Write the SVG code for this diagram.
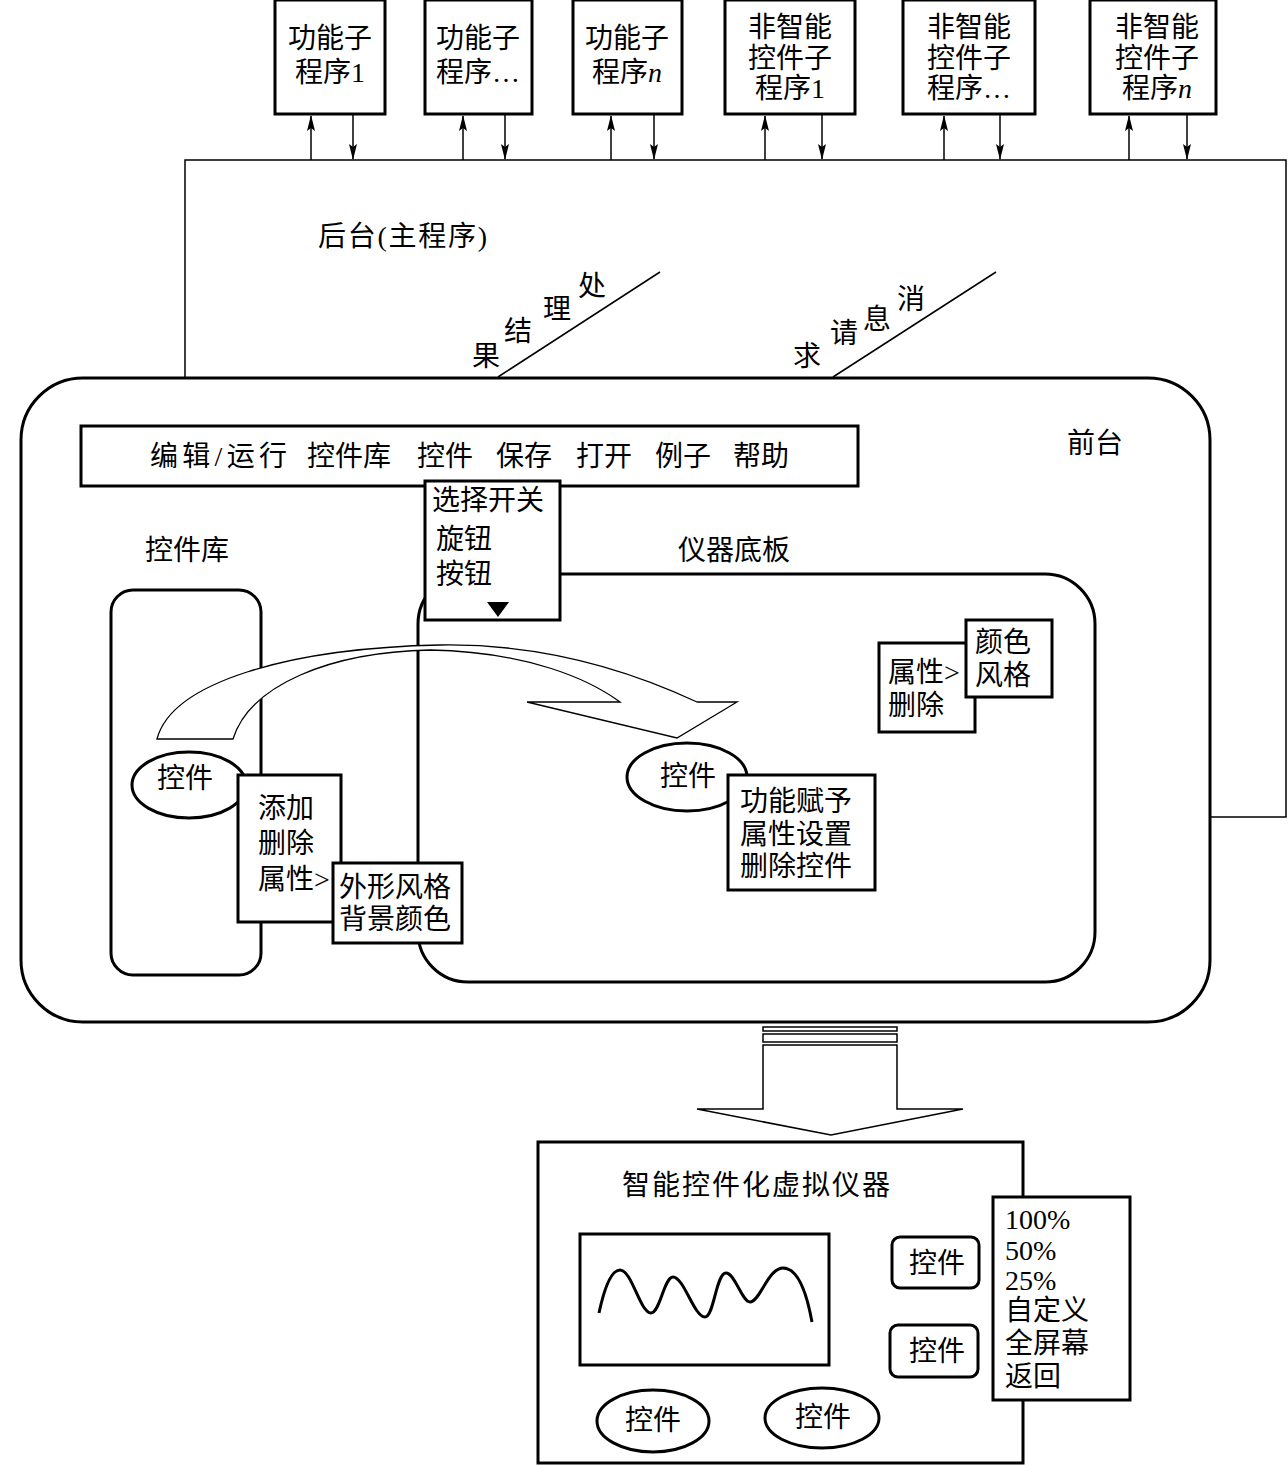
<svg xmlns="http://www.w3.org/2000/svg" width="1288" height="1465" viewBox="0 0 1288 1465">
<style>
text{font-family:"Liberation Serif","Noto Sans CJK SC",serif;font-size:28px;fill:#000}
.c{text-anchor:middle}
.box{fill:#fff;stroke:#000;stroke-width:3}
.thin{fill:none;stroke:#000;stroke-width:1.5}
.arrowline{stroke:#000;stroke-width:1.5;fill:none;marker-end:url(#ah)}
</style>
<defs>
<marker id="ah" markerUnits="userSpaceOnUse" markerWidth="16" markerHeight="10" refX="15" refY="4" orient="auto">
<path d="M0,0 L16,4 L0,8 L3,4 Z" fill="#000"/>
</marker>
</defs>
<rect width="1288" height="1465" fill="#fff"/>

<g id="connectors">
<path class="thin" d="M185,378 L185,160 L1286,160 L1286,817 L1210,817"/>
<line class="arrowline" x1="311" y1="160" x2="311" y2="116"/>
<line class="arrowline" x1="353" y1="115" x2="353" y2="159"/>
<line class="arrowline" x1="463" y1="160" x2="463" y2="116"/>
<line class="arrowline" x1="505" y1="115" x2="505" y2="159"/>
<line class="arrowline" x1="611" y1="160" x2="611" y2="116"/>
<line class="arrowline" x1="654" y1="115" x2="654" y2="159"/>
<line class="arrowline" x1="765" y1="160" x2="765" y2="116"/>
<line class="arrowline" x1="822" y1="115" x2="822" y2="159"/>
<line class="arrowline" x1="944" y1="160" x2="944" y2="116"/>
<line class="arrowline" x1="1000" y1="115" x2="1000" y2="159"/>
<line class="arrowline" x1="1129" y1="160" x2="1129" y2="116"/>
<line class="arrowline" x1="1187" y1="115" x2="1187" y2="159"/>
<line class="thin" x1="498" y1="377" x2="660" y2="272"/>
<line class="thin" x1="833" y1="377" x2="996" y2="272"/>
</g>

<g id="subprograms">
<g id="fn1"><rect class="box" x="275" y="0" width="110" height="114"/><text class="c" x="330" y="48">功能子</text><text class="c" x="330" y="82">程序1</text></g>
<g id="fn2"><rect class="box" x="425" y="0" width="107" height="114"/><text class="c" x="478" y="48">功能子</text><text class="c" x="478" y="82">程序…</text></g>
<g id="fn3"><rect class="box" x="573" y="0" width="109" height="114"/><text class="c" x="627" y="48">功能子</text><text class="c" x="627" y="82">程序<tspan font-style="italic">n</tspan></text></g>
<g id="nf1"><rect class="box" x="725" y="0" width="130" height="114"/><text class="c" x="790" y="37">非智能</text><text class="c" x="790" y="68">控件子</text><text class="c" x="790" y="98">程序1</text></g>
<g id="nf2"><rect class="box" x="903" y="0" width="132" height="114"/><text class="c" x="969" y="37">非智能</text><text class="c" x="969" y="68">控件子</text><text class="c" x="969" y="98">程序…</text></g>
<g id="nf3"><rect class="box" x="1090" y="0" width="126" height="114"/><text class="c" x="1157" y="37">非智能</text><text class="c" x="1157" y="68">控件子</text><text class="c" x="1157" y="98">程序<tspan font-style="italic">n</tspan></text></g>
</g>

<g id="backend-label">
<text x="318" y="246" font-size="27" textLength="169" lengthAdjust="spacing">后台(主程序)</text>
<text class="c" x="486" y="366">果</text>
<text class="c" x="518" y="341">结</text>
<text class="c" x="557" y="319">理</text>
<text class="c" x="592" y="296">处</text>
<text class="c" x="807" y="366">求</text>
<text class="c" x="844" y="343">请</text>
<text class="c" x="877" y="329">息</text>
<text class="c" x="911" y="309">消</text>
</g>

<g id="frontend">
<rect class="box" x="21" y="378" width="1189" height="644" rx="62"/>
<text x="1067" y="453">前台</text>
</g>

<g id="menubar">
<rect class="box" x="81" y="426" width="777" height="60"/>
<text x="150" y="466" textLength="137" lengthAdjust="spacing">编辑/运行</text>
<text x="307" y="466">控件库</text>
<text x="417" y="466">控件</text>
<text x="496" y="466">保存</text>
<text x="576" y="466">打开</text>
<text x="655" y="466">例子</text>
<text x="733" y="466">帮助</text>
</g>

<g id="library">
<text x="145" y="560">控件库</text>
<rect class="box" x="111" y="590" width="150" height="385" rx="22"/>
</g>

<g id="panel">
<text x="678" y="560">仪器底板</text>
<rect class="box" x="418" y="574" width="677" height="408" rx="50"/>
</g>

<g id="drag-arrow">
<path fill="#fff" stroke="#000" stroke-width="1.3" d="M157,739 C172,682 290,648 440,645 C560,643 650,680 697,702 L737,702 L677,738 L527,702 L620,702 C590,680 530,652 430,650 C330,652 250,685 233,739 Z"/>
</g>

<g id="dropdown">
<rect class="box" x="425" y="481" width="135" height="139"/>
<text x="432" y="510">选择开关</text>
<text x="436" y="549">旋钮</text>
<text x="436" y="584">按钮</text>
<path d="M487,602 L509,602 L498,617 Z" fill="#000"/>
</g>

<g id="lib-control">
<ellipse class="box" cx="189" cy="785" rx="57" ry="33"/>
<text x="157" y="788">控件</text>
</g>

<g id="lib-menu">
<rect class="box" x="238" y="775" width="103" height="147"/>
<text x="258" y="818">添加</text>
<text x="258" y="853">删除</text>
<text x="258" y="889">属性&gt;</text>
</g>

<g id="lib-submenu">
<rect class="box" x="333" y="863" width="129" height="80"/>
<text x="339" y="897">外形风格</text>
<text x="339" y="929">背景颜色</text>
</g>

<g id="panel-control">
<ellipse class="box" cx="687" cy="777" rx="60" ry="34"/>
<text x="660" y="786">控件</text>
</g>

<g id="panel-menu">
<rect class="box" x="728" y="775" width="147" height="115"/>
<text x="740" y="811">功能赋予</text>
<text x="740" y="844">属性设置</text>
<text x="740" y="876">删除控件</text>
</g>

<g id="prop-menu">
<rect class="box" x="879" y="643" width="96" height="89"/>
<text x="888" y="682">属性&gt;</text>
<text x="888" y="715">删除</text>
</g>

<g id="prop-submenu">
<rect class="box" x="966" y="620" width="86" height="77"/>
<text x="975" y="652">颜色</text>
<text x="975" y="685">风格</text>
</g>

<g id="output-arrow">
<rect fill="#fff" stroke="#000" stroke-width="1.5" x="763" y="1027" width="134" height="4"/>
<rect fill="#fff" stroke="#000" stroke-width="1.5" x="763" y="1034" width="134" height="8"/>
<path fill="#fff" stroke="#000" stroke-width="1.5" d="M763,1045 L897,1045 L897,1109 L963,1109 L831,1135 L697,1109 L763,1109 Z"/>
</g>

<g id="virtual-instrument">
<rect class="box" x="538" y="1142" width="485" height="321"/>
<text x="622" y="1195" textLength="268" lengthAdjust="spacing">智能控件化虚拟仪器</text>
<rect class="box" x="580" y="1234" width="249" height="131"/>
<path fill="none" stroke="#000" stroke-width="3" d="M599,1313 C605,1285 612,1270 620,1270 C632,1270 640,1313 651,1313 C660,1313 664,1277 673,1277 C684,1277 694,1317 705,1317 C714,1317 716,1273 726,1273 C735,1273 742,1302 750,1302 C760,1302 768,1268 783,1268 C800,1268 808,1300 812,1322"/>
<rect class="box" x="892" y="1237" width="87" height="51" rx="8"/>
<text x="909" y="1273">控件</text>
<rect class="box" x="890" y="1325" width="88" height="52" rx="8"/>
<text x="909" y="1361">控件</text>
<ellipse class="box" cx="653" cy="1421" rx="56" ry="31"/>
<text x="625" y="1430">控件</text>
<ellipse class="box" cx="822" cy="1418" rx="57" ry="30"/>
<text x="795" y="1427">控件</text>
<rect class="box" x="993" y="1197" width="137" height="203"/>
<text x="1005" y="1229" font-size="27">100%</text>
<text x="1005" y="1260" font-size="27">50%</text>
<text x="1005" y="1290" font-size="27">25%</text>
<text x="1005" y="1320" font-size="27">自定义</text>
<text x="1005" y="1353" font-size="27">全屏幕</text>
<text x="1005" y="1386" font-size="27">返回</text>
</g>
</svg>
